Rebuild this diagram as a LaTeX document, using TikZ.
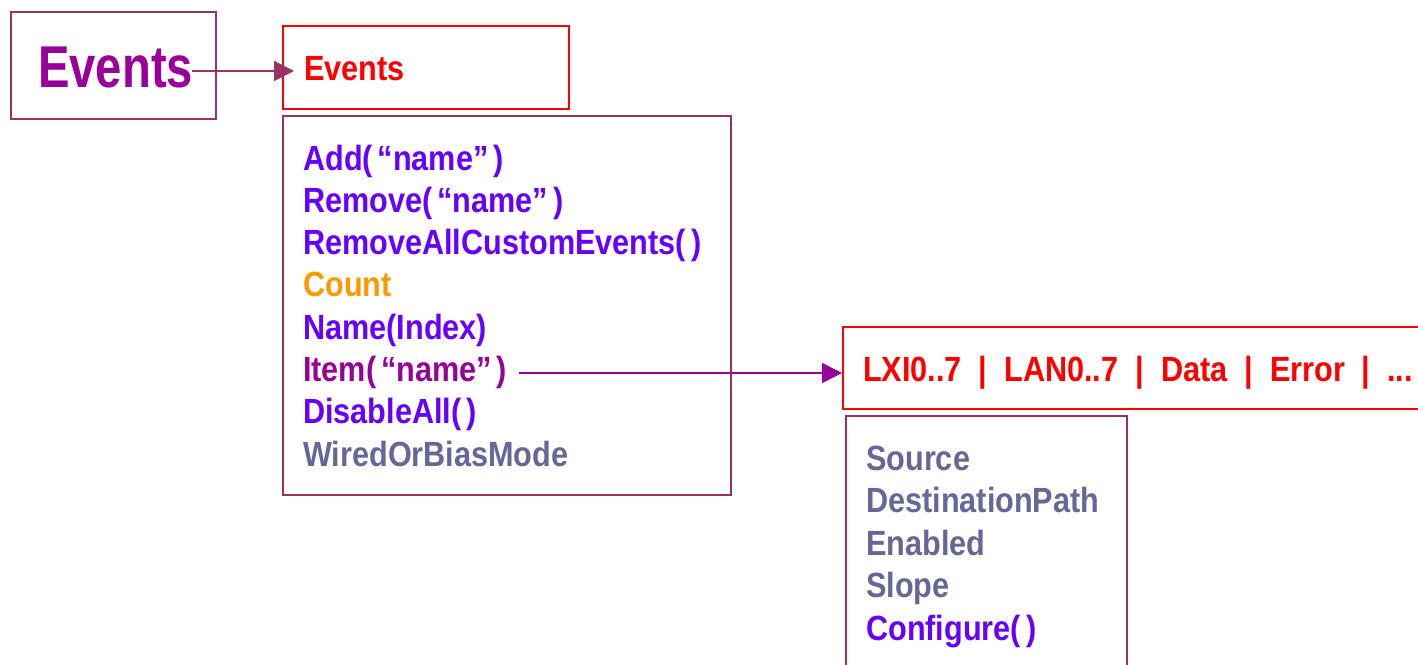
\documentclass[tikz,border=0pt]{standalone}
\usepackage{fontspec}
\newfontfamily\mf{Liberation Sans}[FakeStretch=0.875]
\newfontfamily\bigf{Liberation Sans}[FakeStretch=0.8]
\usetikzlibrary{arrows.meta}
\definecolor{frame}{HTML}{993366}
\definecolor{meth}{HTML}{6600FF}
\definecolor{prop}{HTML}{666699}
\definecolor{cnt}{HTML}{FF9900}
\definecolor{purp}{HTML}{990099}
\definecolor{redc}{HTML}{FF0000}
\newcommand{\qn}{(\kern5pt“name”\kern5pt)}
\newcommand{\ep}{(\kern5pt)}
\newcommand{\sep}{\hspace{17pt}|\hspace{17pt}}
\begin{document}
\begin{tikzpicture}[x=1pt,y=-1pt,
  box/.style={draw=frame,line width=2pt,inner sep=0pt,anchor=north west},
  rbox/.style={draw=redc,line width=2pt,inner sep=0pt,anchor=north west},
  lbl/.style={anchor=base west,inner sep=0pt,font=\mf\bfseries\fontsize{35}{42}\selectfont},
  conn/.style={line width=1.6pt,-{Triangle[length=20pt,width=20pt]}}]
\useasboundingbox (0,0) rectangle (1418,664);
\clip (0,0) rectangle (1418,664);
% boxes
\node[box,minimum width=205pt,minimum height=107pt] (boxA) at (10,11) {};
\node[rbox,minimum width=286pt,minimum height=83pt] (boxB) at (282,25) {};
\node[box,minimum width=448pt,minimum height=379pt] (boxC) at (282,115) {};
\node[rbox,minimum width=620pt,minimum height=82pt] (boxD) at (842,326) {};
\node[box,minimum width=281pt,minimum height=300pt] (boxE) at (845,415) {};
% texts
\node[anchor=base west,inner sep=0pt,font=\bigf\bfseries\fontsize{59}{60}\selectfont,text=purp] (bigev) at (38,87) {Events};
\node[lbl,text=redc] (evt) at (304,80) {Events};
\node[lbl,text=meth] (t1) at (303,170) {Add\qn};
\node[lbl,text=meth] (t2) at (303,212.3) {Remove\qn};
\node[lbl,text=meth] (t3) at (303,254.6) {RemoveAllCustomEvents\ep};
\node[lbl,text=cnt] (t4) at (303,296.9) {Count};
\node[lbl,text=meth] (t5) at (303,339.2) {Name(Index)};
\node[lbl,text=purp] (t6) at (303,381.5) {Item\qn};
\node[lbl,text=meth] (t7) at (303,423.8) {DisableAll\ep};
\node[lbl,text=prop] (t8) at (303,466.1) {WiredOrBiasMode};
\node[lbl,text=redc] (lxi) at (863,381) {LXI0..7\sep LAN0..7\sep Data\sep Error\sep ...};
\node[lbl,text=prop] (e1) at (866,470) {Source};
\node[lbl,text=prop] (e2) at (866,512.5) {DestinationPath};
\node[lbl,text=prop] (e3) at (866,555) {Enabled};
\node[lbl,text=prop] (e4) at (866,597.5) {Slope};
\node[lbl,text=meth] (e5) at (866,640) {Configure\ep};
% connectors
\coordinate (a1s) at (192,71);
\coordinate (a1e) at (294,71);
\draw[conn,draw=frame,fill=frame] (a1s) -- (a1e);
\coordinate (a2e) at (842,373);
\draw[conn,draw=purp,fill=purp] ([xshift=12pt]t6.east |- a2e) -- (a2e);
\end{tikzpicture}
\end{document}
